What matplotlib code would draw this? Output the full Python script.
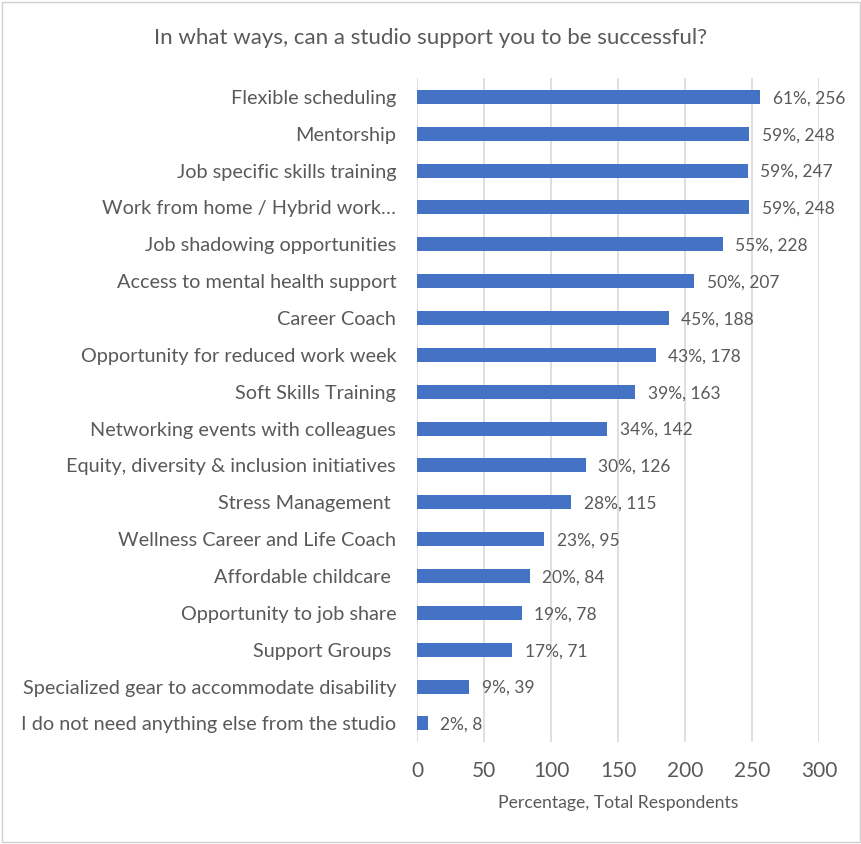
import matplotlib
matplotlib.use('Agg')
from matplotlib import pyplot as plt
from matplotlib.patches import Rectangle

# Survey answers, top to bottom
categories = [
    'Flexible scheduling',
    'Mentorship',
    'Job specific skills training',
    'Work from home / Hybrid work\u2026',
    'Job shadowing opportunities',
    'Access to mental health support',
    'Career Coach',
    'Opportunity for reduced work week',
    'Soft Skills Training',
    'Networking events with colleagues',
    'Equity, diversity & inclusion initiatives',
    'Stress Management ',
    'Wellness Career and Life Coach',
    'Affordable childcare ',
    'Opportunity to job share',
    'Support Groups ',
    'Specialized gear to accommodate disability',
    'I do not need anything else from the studio',
]
counts = [256, 248, 247, 248, 228, 207, 188, 178, 163, 142, 126, 115, 95, 84, 78, 71, 39, 8]
percents = [61, 59, 59, 59, 55, 50, 45, 43, 39, 34, 30, 28, 23, 20, 19, 17, 9, 2]
xticks = [0, 50, 100, 150, 200, 250, 300]

textColor = '#595959'
barColor = '#4472C4'
plt.rcParams['font.family'] = ['Lato', 'DejaVu Sans']

fig = plt.figure(figsize=(8.62, 8.44), dpi=100)
fig.patches.append(Rectangle((0.002, 0.002), 0.996, 0.996, transform=fig.transFigure,
                             fill=False, edgecolor='#d0d0d0', linewidth=1))
ax = fig.add_axes([0.4838, 0.121, 0.4663, 0.786])

ypos = list(range(len(categories)))
ax.barh(ypos, counts, height=0.38, color=barColor, zorder=3)
for y, c, p in zip(ypos, counts, percents):
    ax.annotate(f'{p}%, {c}', (c, y), xytext=(9, -1), textcoords='offset points',
                va='center', ha='left', fontsize=12.5, color=textColor)

ax.set_ylim(len(categories) - 0.5, -0.5)
ax.set_xlim(0, 300)
ax.set_yticks(ypos)
ax.set_yticklabels(categories, fontsize=14.3, color=textColor)
ax.set_xticks(xticks)
ax.set_xticklabels([str(t) for t in xticks], fontsize=15, color=textColor)
ax.tick_params(axis='y', length=0, pad=15)
ax.tick_params(axis='x', length=0, pad=14)
ax.grid(axis='x', color='#d9d9d9', linewidth=1.2, zorder=0)
for s in ax.spines.values():
    s.set_visible(False)

ax.set_xlabel('Percentage, Total Respondents', fontsize=12.7, color=textColor, labelpad=10)
fig.text(0.5, 0.955, 'In what ways, can a studio support you to be successful?',
         ha='center', va='center', fontsize=16, color=textColor)

fig.savefig('out.png', dpi=100)
